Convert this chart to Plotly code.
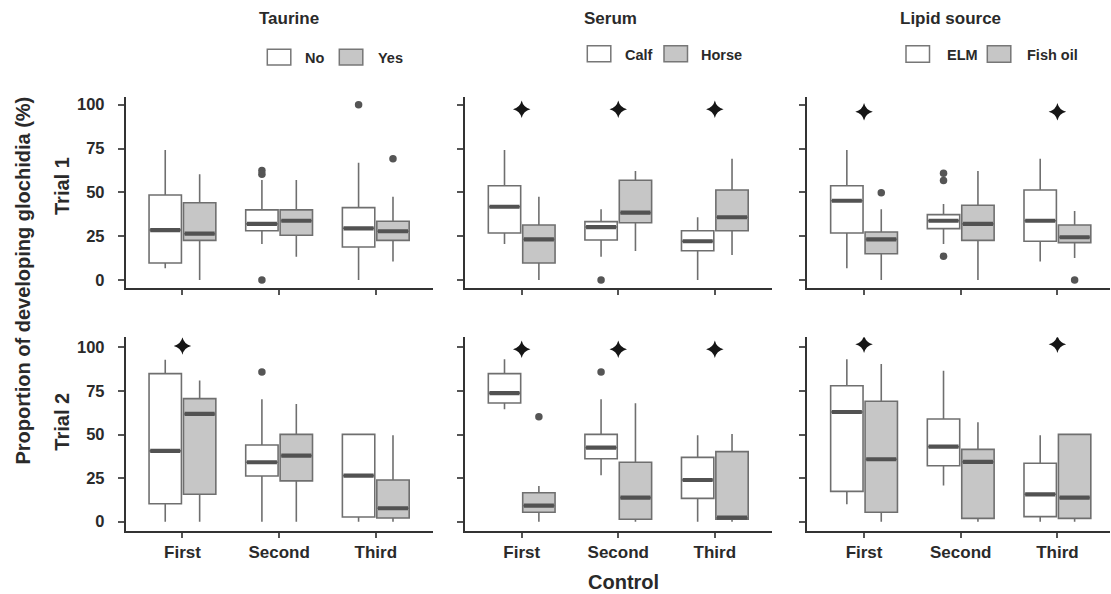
import plotly.graph_objects as go

# ---------------- data (lower whisker, Q1, median, Q3, upper whisker) ----------------
CATEGORIES = ["First", "Second", "Third"]
Y_TICKS = [0, 25, 50, 75, 100]
FACTORS = ["Taurine", "Serum", "Lipid source"]
LEVELS = [["No", "Yes"], ["Calf", "Horse"], ["ELM", "Fish oil"]]
TRIALS = ["Trial 1", "Trial 2"]

taurine_t1_no = [(6.7, 9.7, 28.5, 48.5, 74.2), (20.5, 28.1, 32.0, 40.0, 57.0), (0.0, 18.8, 29.5, 41.3, 66.9)]
taurine_t1_yes = [(0.0, 22.6, 26.4, 44.1, 60.3), (13.3, 25.5, 33.8, 40.0, 57.0), (10.5, 22.6, 27.8, 33.5, 47.5)]
serum_t1_calf = [(20.5, 26.8, 41.8, 53.8, 74.2), (13.3, 22.8, 30.2, 33.3, 40.3), (0.0, 16.7, 22.1, 28.1, 35.8)]
serum_t1_horse = [(0.0, 9.7, 23.2, 31.4, 47.5), (16.5, 32.7, 38.4, 56.9, 62.2), (14.3, 28.1, 35.8, 51.3, 69.2)]
lipid_t1_elm = [(6.7, 26.8, 45.2, 53.8, 74.2), (20.5, 29.3, 33.8, 37.3, 43.4), (10.5, 22.1, 33.8, 51.3, 69.2)]
lipid_t1_fish = [(0.0, 15.0, 23.2, 27.4, 40.3), (0.0, 22.6, 32.0, 42.6, 62.2), (12.5, 21.3, 24.4, 31.4, 39.4)]

taurine_t2_no = [(0.0, 10.3, 40.6, 84.9, 92.8), (0.0, 26.2, 34.1, 44.0, 70.2), (0.0, 2.7, 26.4, 50.1, 50.1)]
taurine_t2_yes = [(0.0, 15.7, 61.8, 70.6, 80.9), (0.0, 23.4, 37.9, 50.1, 67.5), (0.0, 2.1, 7.7, 23.9, 49.6)]
serum_t2_calf = [(64.5, 68.1, 73.7, 84.9, 93.2), (26.6, 36.1, 42.5, 50.1, 70.2), (0.0, 13.4, 23.9, 36.9, 49.6)]
serum_t2_horse = [(0.0, 5.4, 9.2, 16.6, 20.5), (0.0, 1.4, 13.8, 34.1, 67.9), (0.0, 1.4, 2.3, 40.2, 50.3)]
lipid_t2_elm = [(10.0, 17.4, 62.9, 78.0, 93.2), (20.7, 32.1, 43.0, 58.9, 86.5), (0.0, 2.9, 15.7, 33.5, 49.6)]
lipid_t2_fish = [(0.0, 5.4, 35.8, 69.1, 90.5), (0.0, 1.9, 34.3, 41.5, 57.0), (0.0, 1.9, 13.8, 50.1, 50.1)]

# outliers per category (First, Second, Third)
out_taurine_t1_no = [[], [62.4, 60.3, 0.0], [100.0]]
out_taurine_t1_yes = [[], [], [69.2]]
out_serum_t1_calf = [[], [0.0], []]
out_serum_t1_horse = [[], [], []]
out_lipid_t1_elm = [[], [60.9, 56.7, 13.5], []]
out_lipid_t1_fish = [[49.8], [], [0.0]]
out_taurine_t2_no = [[], [85.9], []]
out_taurine_t2_yes = [[], [], []]
out_serum_t2_calf = [[], [85.9], []]
out_serum_t2_horse = [[60.2], [], []]
out_lipid_t2_elm = [[], [], []]
out_lipid_t2_fish = [[], [], []]

# significance stars per category (None = no star)
star_taurine_t1 = [None, None, None]
star_serum_t1 = [97.4, 97.4, 97.4]
star_lipid_t1 = [96.0, None, 96.0]
star_taurine_t2 = [100.8, None, None]
star_serum_t2 = [98.9, 98.9, 98.9]
star_lipid_t2 = [101.8, None, 101.8]

PANELS = [
    [(taurine_t1_no, taurine_t1_yes, out_taurine_t1_no, out_taurine_t1_yes, star_taurine_t1),
     (serum_t1_calf, serum_t1_horse, out_serum_t1_calf, out_serum_t1_horse, star_serum_t1),
     (lipid_t1_elm, lipid_t1_fish, out_lipid_t1_elm, out_lipid_t1_fish, star_lipid_t1)],
    [(taurine_t2_no, taurine_t2_yes, out_taurine_t2_no, out_taurine_t2_yes, star_taurine_t2),
     (serum_t2_calf, serum_t2_horse, out_serum_t2_calf, out_serum_t2_horse, star_serum_t2),
     (lipid_t2_elm, lipid_t2_fish, out_lipid_t2_elm, out_lipid_t2_fish, star_lipid_t2)],
]

# ---------------- style / layout ----------------
W, H = 1111, 594
FONT = "Liberation Sans, Arial, sans-serif"
TXT = "#2a2a2a"
FILLS = ["#ffffff", "#c6c6c6"]
BOX_LINE = "#6f6f6f"
MED_COLOR = "#525252"
OFFSET = 0.178
BOXW = 0.335

X_PX = [(125.7, 433.3), (465.0, 772.3), (807.3, 1110.0)]
X_RANGES = [(0.413, 3.595), (0.413, 3.595), (0.413, 3.544)]
Y_PX = [(96.7, 288.3), (337.3, 530.7)]
Y_RANGES = [(-4.73, 104.56), (-5.16, 105.74)]

fig = go.Figure()

def ax_id(r, c):
    n = r * 3 + c + 1
    return ("" if n == 1 else str(n))

for r in range(2):
    for c in range(3):
        g0, g1, o0, o1, stars = PANELS[r][c]
        sid = ax_id(r, c)
        xa, ya = "x" + sid, "y" + sid
        for gi, (grp, outs) in enumerate([(g0, o0), (g1, o1)]):
            off = -OFFSET if gi == 0 else OFFSET
            xs = [i + 1 + off for i in range(len(CATEGORIES))]
            fig.add_trace(go.Box(
                x=xs,
                lowerfence=[s[0] for s in grp], q1=[s[1] for s in grp],
                median=[s[2] for s in grp], q3=[s[3] for s in grp],
                upperfence=[s[4] for s in grp],
                width=BOXW, whiskerwidth=0, boxpoints=False,
                fillcolor=FILLS[gi], line=dict(color=BOX_LINE, width=1.6),
                showlegend=False, xaxis=xa, yaxis=ya, hoverinfo="skip"))
            mx, my = [], []
            for x, s in zip(xs, grp):
                mx += [x - BOXW / 2 + 0.012, x + BOXW / 2 - 0.012, None]
                my += [s[2], s[2], None]
            fig.add_trace(go.Scatter(x=mx, y=my, mode="lines",
                                     line=dict(color=MED_COLOR, width=4.2),
                                     showlegend=False, xaxis=xa, yaxis=ya, hoverinfo="skip"))
            ox, oy = [], []
            for x, vals in zip(xs, outs):
                for v in vals:
                    ox.append(x)
                    oy.append(v)
            if ox:
                fig.add_trace(go.Scatter(x=ox, y=oy, mode="markers",
                                         marker=dict(color="#555555", size=7.5),
                                         showlegend=False, xaxis=xa, yaxis=ya, hoverinfo="skip"))
        sx = [i + 1 for i, s in enumerate(stars) if s is not None]
        sy = [s for s in stars if s is not None]
        if sx:
            fig.add_trace(go.Scatter(x=sx, y=sy, mode="markers",
                                     marker=dict(symbol="star-diamond", size=12.5, color="#161616",
                                                 line=dict(width=0)),
                                     showlegend=False, xaxis=xa, yaxis=ya, hoverinfo="skip"))

layout = dict(
    width=W, height=H, autosize=False,
    margin=dict(l=0, r=0, t=0, b=0),
    paper_bgcolor="white", plot_bgcolor="white",
    boxmode="overlay", showlegend=False,
    font=dict(family=FONT, color=TXT),
)
for r in range(2):
    for c in range(3):
        sid = ax_id(r, c)
        key_x = "xaxis" + sid
        key_y = "yaxis" + sid
        x0, x1 = X_PX[c]
        y0, y1 = Y_PX[r]
        layout[key_x] = dict(
            domain=[x0 / W, x1 / W], range=list(X_RANGES[c]),
            tickvals=[1, 2, 3], ticktext=CATEGORIES,
            showticklabels=(r == 1), ticks="outside", ticklen=5, tickwidth=1.5,
            tickcolor="#555555", showline=True, linecolor="#333333", linewidth=1.8,
            showgrid=False, zeroline=False, anchor="y" + sid,
            tickfont=dict(family=FONT, size=17, color=TXT, weight="bold"),
            ticklabelstandoff=0,
        )
        layout[key_y] = dict(
            domain=[1 - y1 / H, 1 - y0 / H], range=list(Y_RANGES[r]),
            tickvals=Y_TICKS, showticklabels=(c == 0), ticks="outside", ticklen=6,
            tickwidth=1.5, tickcolor="#555555", showline=True, linecolor="#333333",
            linewidth=1.8, showgrid=False, zeroline=False, anchor="x" + sid,
            tickfont=dict(family=FONT, size=16.5, color=TXT, weight="bold"),
            ticklabelstandoff=10,
        )
fig.update_layout(**layout)

def px(x):
    return x / W

def py(y):
    return 1 - y / H

ann = []
shapes = []
TITLE_X = [289.0, 610.3, 950.0]
LEG_BOX_X = [(267.3, 339.3), (587.3, 664.0), (906.0, 987.3)]
LEG_TXT_X = [(303.3, 376.0), (623.3, 699.3), (945.0, 1025.0)]
LEG_Y = [(49.3, 65.0), (45.7, 61.7), (45.7, 62.3)]
LEG_BW = 23.5
for i, name in enumerate(FACTORS):
    ann.append(dict(x=px(TITLE_X[i]), y=py(18.5), xref="paper", yref="paper", text=name,
                    showarrow=False, xanchor="center", yanchor="middle",
                    font=dict(family=FONT, size=17, color=TXT, weight="bold")))
    ly0, ly1 = LEG_Y[i]
    for j in range(2):
        bx = LEG_BOX_X[i][j]
        shapes.append(dict(type="rect", xref="paper", yref="paper",
                           x0=px(bx), x1=px(bx + LEG_BW), y0=py(ly1), y1=py(ly0),
                           fillcolor=FILLS[j], line=dict(color="#777777", width=1.5)))
        ann.append(dict(x=px(LEG_TXT_X[i][j]), y=py((ly0 + ly1) / 2 + 1), xref="paper", yref="paper",
                        text=LEVELS[i][j], showarrow=False, xanchor="left", yanchor="middle",
                        font=dict(family=FONT, size=14.5, color=TXT, weight="bold")))

ann.append(dict(x=px(22.5), y=py(281), xref="paper", yref="paper",
                text="Proportion of developing glochidia (%)", textangle=-90, showarrow=False,
                xanchor="center", yanchor="middle",
                font=dict(family=FONT, size=20, color=TXT, weight="bold")))
for t, yc in zip(TRIALS, [186.0, 421.7]):
    ann.append(dict(x=px(62), y=py(yc), xref="paper", yref="paper", text=t, textangle=-90,
                    showarrow=False, xanchor="center", yanchor="middle",
                    font=dict(family=FONT, size=20, color=TXT, weight="bold")))
ann.append(dict(x=px(623.3), y=py(581.5), xref="paper", yref="paper", text="Control",
                showarrow=False, xanchor="center", yanchor="middle",
                font=dict(family=FONT, size=20, color=TXT, weight="bold")))

fig.update_layout(annotations=ann, shapes=shapes)
fig.write_html("out.html")
